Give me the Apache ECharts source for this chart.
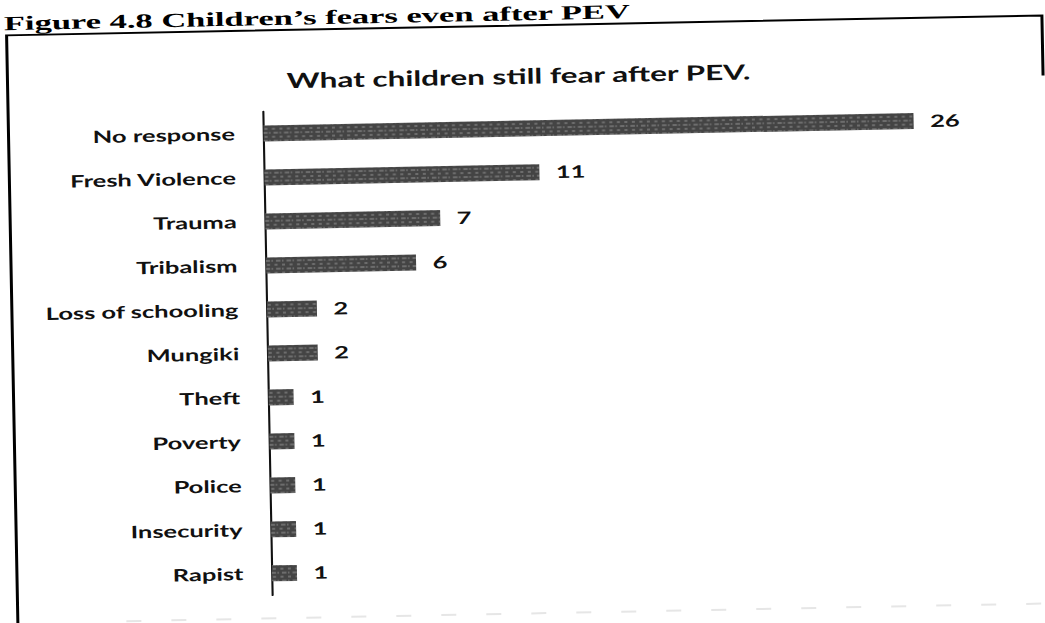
<!DOCTYPE html>
<html>
<head>
<meta charset="utf-8">
<script src="https://cdn.jsdelivr.net/npm/echarts@6/dist/echarts.min.js"></script>
<style>
  html, body { margin: 0; padding: 0; background: #fff; overflow: hidden; width: 1045px; height: 623px; }
  #stage { position: absolute; }
</style>
</head>
<body>
<div id="stage"></div>
<script>
// Categories and counts, top to bottom
const categories = ['No response', 'Fresh Violence', 'Trauma', 'Tribalism', 'Loss of schooling',
                    'Mungiki', 'Theft', 'Poverty', 'Police', 'Insecurity', 'Rapist'];
const counts = [26, 11, 7, 6, 2, 2, 1, 1, 1, 1, 1];
const captionText = 'Figure 4.8 Children\u2019s fears even after PEV';
const titleText = 'What children still fear after PEV.';

// Page geometry: the printed figure is stretched sideways and sits slightly tilted
const PAGE_W = 1045, PAGE_H = 623;
const SX = 1.5;       // horizontal stretch
const TILT = -1.1;    // degrees
const STAGE_W = 1110 / SX, STAGE_H = 690;
const stage = document.getElementById('stage');
stage.style.width = STAGE_W + 'px';
stage.style.height = STAGE_H + 'px';
stage.style.left = (PAGE_W / 2 - STAGE_W / 2) + 'px';
stage.style.top = (PAGE_H / 2 - STAGE_H / 2) + 'px';
stage.style.transformOrigin = '50% 50%';
stage.style.transform = 'rotate(' + TILT + 'deg) scaleX(' + SX + ')';

// page coordinates (untilted) -> stage coordinates
const ux = x => STAGE_W / 2 + (x - PAGE_W / 2) / SX;
const vy = y => STAGE_H / 2 + (y - PAGE_H / 2);

const LABEL_FONT = 'Lato, "Open Sans", sans-serif';

const chart = echarts.init(stage, null, { renderer: 'svg' });
chart.setOption({
  backgroundColor: '#fff',
  animation: false,
  title: {
    text: titleText,
    left: 'center',
    top: vy(60),
    textStyle: { fontFamily: LABEL_FONT, fontWeight: 'bold', fontSize: 21, color: '#111' }
  },
  grid: {
    left: ux(266.5),
    right: STAGE_W - ux(916.7),
    top: vy(106),
    height: 484,
    containLabel: false
  },
  xAxis: {
    type: 'value',
    min: 0,
    max: 26,
    show: false,
    splitLine: { show: false }
  },
  yAxis: {
    type: 'category',
    data: categories,
    inverse: true,
    axisLine: { show: true, lineStyle: { color: '#111', width: 1.4 } },
    axisTick: { show: false },
    axisLabel: {
      margin: 19,
      fontFamily: LABEL_FONT,
      fontWeight: 'bold',
      fontSize: 17,
      color: '#111'
    }
  },
  series: [{
    type: 'bar',
    data: counts,
    barWidth: 16,
    itemStyle: {
      color: '#444',
      decal: {
        symbol: 'rect',
        symbolSize: 1,
        color: 'rgba(255,255,255,0.22)',
        dashArrayX: [[2, 3], [1, 2, 3, 1]],
        dashArrayY: [2, 2],
        rotation: 0
      }
    },
    label: {
      show: true,
      position: 'right',
      distance: 11,
      fontFamily: LABEL_FONT,
      fontWeight: 'bold',
      fontSize: 17,
      color: '#111'
    }
  }],
  graphic: [
    {
      type: 'text',
      x: ux(9),
      y: vy(3),
      scaleX: 1.15,
      style: {
        text: captionText,
        font: 'bold 20px "Liberation Serif", "Times New Roman", serif',
        fill: '#000'
      }
    },
    {
      type: 'polyline',
      shape: {
        points: [[ux(1047), vy(85)], [ux(1047), vy(25)], [ux(11.5), vy(25)], [ux(11.5), vy(660)]]
      },
      style: { stroke: '#000', lineWidth: 2, fill: null }
    },
    {
      type: 'line',
      shape: { x1: ux(120), y1: vy(613), x2: ux(1040), y2: vy(613) },
      style: { stroke: '#e6e6e6', lineWidth: 2, lineDash: [10, 20] }
    }
  ]
});
</script>
</body>
</html>
